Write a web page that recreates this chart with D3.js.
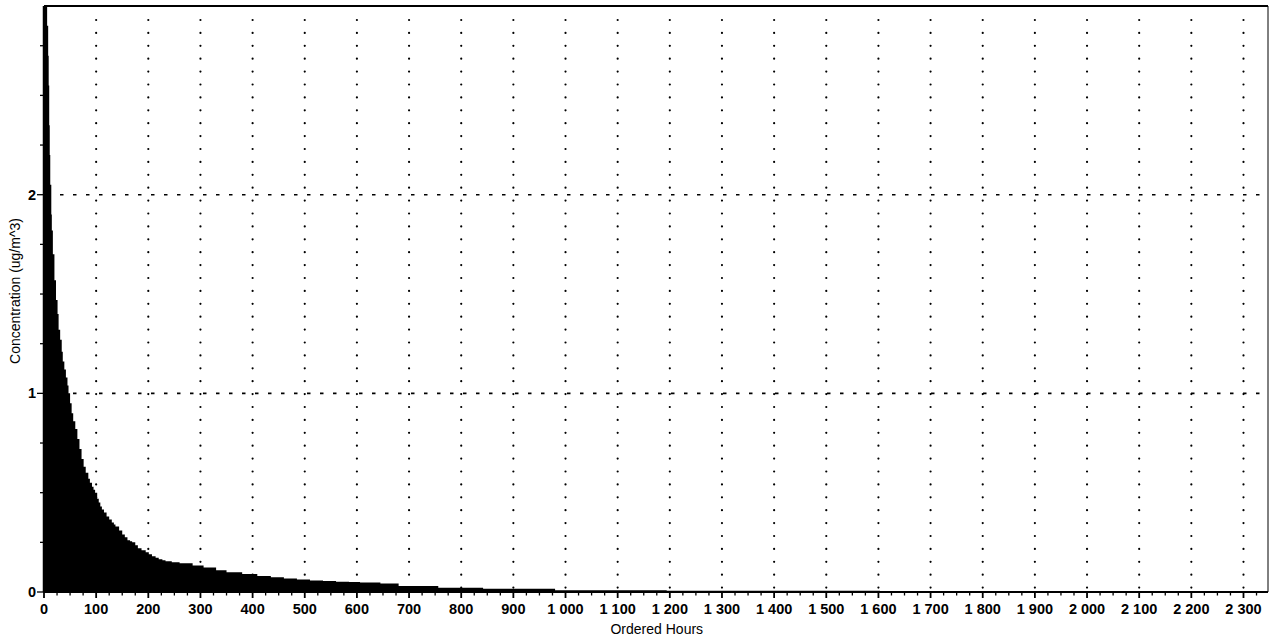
<!DOCTYPE html>
<html>
<head>
    <title>Ordered hours</title>
    <script src="https://d3js.org/d3.v7.min.js"></script>
    <style>
        body { margin: 0; background: #fff; }
        svg { font-family: "Liberation Sans", Arial, sans-serif; }
    </style>
</head>
<body>
    <svg id="chart" width="1271" height="637"></svg>

    <script>
        // ordered hour (start of step) and concentration
        var hours = [0, 6, 8, 9, 10, 11, 12, 14, 15, 17, 20, 23, 26, 28, 31, 34, 36, 39, 42, 45,
            47, 50, 53, 56, 60, 64, 68, 72, 76, 80, 85, 88, 92, 95, 98, 102, 105, 108, 111, 115,
            120, 125, 130, 134, 137, 144, 150, 155, 160, 165, 169, 175, 180, 187, 195, 201, 207,
            214, 220, 227, 233, 245, 260, 285, 306, 330, 350, 380, 409, 435, 460, 485, 510, 535,
            560, 585, 606, 645, 680, 756, 842, 980, 1194, 1603, 2000]
        var conc = [2.95, 2.85, 2.7, 2.55, 2.35, 2.2, 2.05, 1.9, 1.82, 1.7, 1.57, 1.47, 1.4, 1.32,
            1.27, 1.21, 1.16, 1.12, 1.08, 1.04, 1.0, 0.95, 0.9, 0.86, 0.82, 0.77, 0.72, 0.67, 0.63,
            0.6, 0.57, 0.55, 0.53, 0.515, 0.5, 0.47, 0.45, 0.43, 0.415, 0.4, 0.38, 0.365, 0.35,
            0.34, 0.33, 0.31, 0.29, 0.275, 0.26, 0.255, 0.25, 0.235, 0.22, 0.21, 0.2, 0.19, 0.18,
            0.172, 0.165, 0.16, 0.155, 0.15, 0.145, 0.133, 0.123, 0.11, 0.1, 0.09, 0.08, 0.074,
            0.068, 0.063, 0.058, 0.055, 0.052, 0.05, 0.048, 0.043, 0.03, 0.021, 0.016, 0.009,
            0.006, 0.003, 0.001]
        var xTicks = d3.range(0, 2301, 100)
        var yTicks = [0, 1, 2]
        var xMax = 2347, yMax = 2.95

        var svg = d3.select("#chart")
        var m = { left: 44, top: 6, right: 3, bottom: 45 }
        var wid = 1271 - m.left - m.right
        var hei = 637 - m.top - m.bottom

        var x = d3.scaleLinear([0, xMax], [0, wid])
        var y = d3.scaleLinear([0, yMax], [hei, 0])

        var fmt = d3.formatLocale({ decimal: ".", thousands: " ", grouping: [3], currency: ["", ""] }).format(",")

        var g = svg.append("g").attr("transform", "translate(" + m.left + "," + m.top + ")")

        // grid
        g.selectAll(".vgrid")
            .data(xTicks.slice(1)).enter()
            .append("line")
            .attr("x1", d => x(d)).attr("x2", d => x(d))
            .attr("y1", 14).attr("y2", hei)
            .attr("stroke", "#000").attr("stroke-width", 2.2)
            .attr("stroke-linecap", "round")
            .attr("stroke-dasharray", "0,12.9")

        g.selectAll(".hgrid")
            .data(yTicks.slice(1)).enter()
            .append("line")
            .attr("x1", 16).attr("x2", wid)
            .attr("y1", d => y(d)).attr("y2", d => y(d))
            .attr("stroke", "#000").attr("stroke-width", 1.6)
            .attr("stroke-dasharray", "3.5,9.5")

        // area
        var pts = hours.map((h, i) => [h, conc[i]])
        pts.push([xMax, 0])
        var area = d3.area()
            .x(d => x(d[0]))
            .y0(hei)
            .y1(d => y(d[1]))
            .curve(d3.curveStepAfter)
        g.append("path")
            .datum(pts)
            .attr("d", area)
            .attr("fill", "#000")

        // frame
        g.append("line").attr("x1", 0).attr("x2", wid).attr("y1", 0).attr("y2", 0)
            .attr("stroke", "#000").attr("stroke-width", 2)
        g.append("line").attr("x1", wid).attr("x2", wid).attr("y1", 0).attr("y2", hei)
            .attr("stroke", "#000").attr("stroke-width", 1)

        // x axis
        var xAxis = g.append("g").attr("transform", "translate(0," + hei + ")")
        xAxis.append("line").attr("x1", 0).attr("x2", wid)
            .attr("stroke", "#000").attr("stroke-width", 2)
        xAxis.selectAll(".minor")
            .data(d3.range(0, xMax, 25)).enter()
            .append("line")
            .attr("x1", d => x(d)).attr("x2", d => x(d))
            .attr("y1", 0).attr("y2", d => d % 100 == 0 ? 6 : 3.5)
            .attr("stroke", "#000").attr("stroke-width", d => d % 100 == 0 ? 1.8 : 1.3)
        xAxis.selectAll("text")
            .data(xTicks).enter()
            .append("text")
            .attr("x", d => x(d)).attr("y", 22)
            .attr("text-anchor", "middle")
            .style("font-size", "14.5px").style("font-weight", "bold")
            .text(d => fmt(d))

        // y axis
        var yAxis = g.append("g")
        yAxis.append("line").attr("x1", 0).attr("x2", 0).attr("y1", 0).attr("y2", hei)
            .attr("stroke", "#000").attr("stroke-width", 2.5)
        yAxis.selectAll(".minor")
            .data(d3.range(0, yMax, 0.25)).enter()
            .append("line")
            .attr("x1", d => Math.abs(d % 1) < 1e-6 ? -7 : -4).attr("x2", 0)
            .attr("y1", d => y(d)).attr("y2", d => y(d))
            .attr("stroke", "#000").attr("stroke-width", 1.3)
        yAxis.selectAll("text")
            .data(yTicks).enter()
            .append("text")
            .attr("x", -8).attr("y", d => y(d) + 5)
            .attr("text-anchor", "end")
            .style("font-size", "14.5px").style("font-weight", "bold")
            .text(d => d)

        // titles
        svg.append("text")
            .attr("x", m.left + x(1175)).attr("y", 634)
            .attr("text-anchor", "middle")
            .style("font-size", "14px")
            .text("Ordered Hours")
        svg.append("text")
            .attr("transform", "translate(20,291) rotate(-90)")
            .attr("text-anchor", "middle")
            .style("font-size", "14px")
            .text("Concentration (ug/m^3)")
    </script>
</body>
</html>
